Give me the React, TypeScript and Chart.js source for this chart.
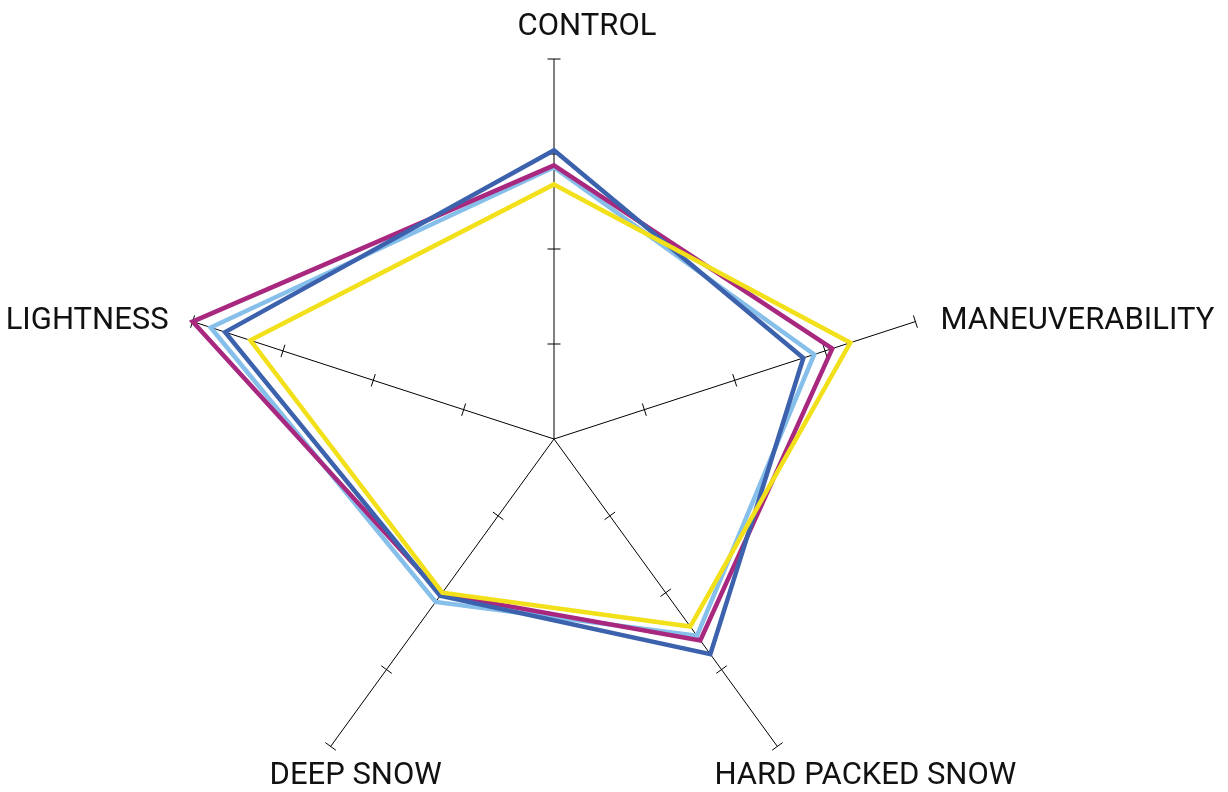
import React, { useEffect, useRef } from "react";
import { Chart, registerables } from "chart.js";

Chart.register(...registerables);

const categories = ["CONTROL", "MANEUVERABILITY", "HARD PACKED SNOW", "DEEP SNOW", "LIGHTNESS"];
const yellowValues = [6.7, 8.2, 6.1, 5.0, 8.4];
const darkBlueValues = [7.6, 6.9, 7.0, 5.1, 9.1];
const magentaValues = [7.2, 7.7, 6.55, 5.05, 10.0];
const lightBlueValues = [7.15, 7.2, 6.4, 5.3, 9.5];
const tickValues = [2.5, 5, 7.5, 10];
const axisMax = 10;

const labelPlacement = [
  { align: "center", dx: 33, dy: -24 },
  { align: "left", dx: 25, dy: 7 },
  { align: "center", dx: 88, dy: 38 },
  { align: "center", dx: 25, dy: 38 },
  { align: "right", dx: -24, dy: 7 },
];

const axisTicksPlugin = {
  id: "axisTicks",
  beforeDatasetsDraw(chart: any) {
    const scale = chart.scales.r;
    const ctx = chart.ctx;
    ctx.save();
    ctx.strokeStyle = "#000";
    ctx.lineWidth = 1;
    for (let i = 0; i < categories.length; i++) {
      const a = scale.getIndexAngle(i) - Math.PI / 2;
      const px = -Math.sin(a);
      const py = Math.cos(a);
      for (const v of tickValues) {
        const p = scale.getPointPosition(i, scale.getDistanceFromCenterForValue(v));
        ctx.beginPath();
        ctx.moveTo(p.x - px * 6.5, p.y - py * 6.5);
        ctx.lineTo(p.x + px * 6.5, p.y + py * 6.5);
        ctx.stroke();
      }
    }
    ctx.restore();
  },
  afterDraw(chart: any) {
    const scale = chart.scales.r;
    const ctx = chart.ctx;
    ctx.save();
    ctx.fillStyle = "#111";
    ctx.font = "31px Roboto, 'Noto Sans', sans-serif";
    ctx.textBaseline = "alphabetic";
    categories.forEach((label, i) => {
      const end = scale.getPointPosition(i, scale.drawingArea);
      const pl = labelPlacement[i];
      ctx.textAlign = pl.align as CanvasTextAlign;
      ctx.fillText(label, end.x + pl.dx, end.y + pl.dy);
    });
    ctx.restore();
  },
};

export default function App() {
  const canvasRef = useRef<HTMLCanvasElement | null>(null);

  useEffect(() => {
    const canvas = canvasRef.current;
    if (!canvas) return;
    const line = (label: string, data: number[], color: string) => ({
      label,
      data,
      borderColor: color,
      backgroundColor: color,
      borderWidth: 4.5,
      fill: false,
      pointRadius: 0,
      pointHoverRadius: 0,
      tension: 0,
      borderJoinStyle: "miter" as const,
    });
    const chart = new Chart(canvas, {
      type: "radar",
      data: {
        labels: categories,
        datasets: [
          line("Yellow", yellowValues, "#F2E01A"),
          line("Dark blue", darkBlueValues, "#3D62AD"),
          line("Magenta", magentaValues, "#A8287F"),
          line("Light blue", lightBlueValues, "#86BFEA"),
        ],
      },
      options: {
        animation: false,
        responsive: false,
        devicePixelRatio: 1,
        layout: { padding: { left: 174, right: 294, top: 59, bottom: 61 } },
        plugins: { legend: { display: false }, tooltip: { enabled: false } },
        scales: {
          r: {
            min: 0,
            max: axisMax,
            ticks: { display: false, stepSize: 2.5 },
            grid: { display: false },
            angleLines: { display: true, color: "#000", lineWidth: 1 },
            pointLabels: { display: false },
          },
        },
      },
      plugins: [axisTicksPlugin],
    });
    return () => chart.destroy();
  }, []);

  return (
    <div
      style={{
        position: "fixed",
        left: 0,
        top: 0,
        width: 1228,
        height: 792,
        overflow: "hidden",
        background: "#fff",
      }}
    >
      <canvas ref={canvasRef} width={1228} height={880} style={{ display: "block" }} />
    </div>
  );
}
